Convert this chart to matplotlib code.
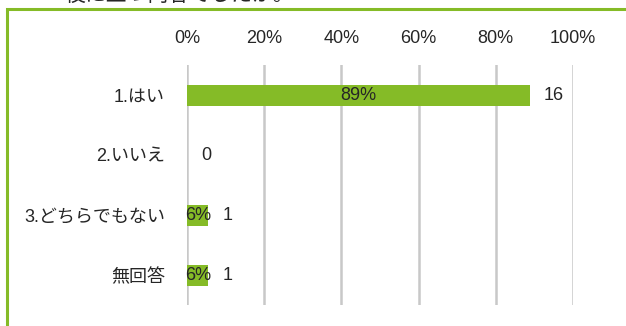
import matplotlib
matplotlib.use("Agg")
import matplotlib.pyplot as plt
from matplotlib.patches import Rectangle

plt.rcParams['font.family'] = ['Liberation Sans', 'Noto Sans CJK JP', 'DejaVu Sans']

# 回答データ
categories = ["1.はい", "2.いいえ", "3.どちらでもない", "無回答"]
counts = [16, 0, 1, 1]
tick_vals = [0, 20, 40, 60, 80, 100]
tick_labels = ["0%", "20%", "40%", "60%", "80%", "100%"]

GREEN = "#85BB27"
TEXT = "#262626"
GRID = "#C8C8C8"

total = sum(counts)
pcts = [c / total * 100 for c in counts]

W, H = 626, 326
fig = plt.figure(figsize=(W / 100, H / 100), dpi=100)

# 外枠（緑）
fig.patches.append(Rectangle((7 / W, -0.1), 1.0, (H - 9) / H + 0.1,
                             transform=fig.transFigure, fill=False,
                             edgecolor=GREEN, linewidth=2.2))
# 上部の設問文（枠の上で切れている）
fig.text(65 / W, 1.0 + 5 / H, "役に立つ内容でしたか。", fontsize=15,
         color=TEXT, ha="left", va="center")

ax = fig.add_axes([187 / W, (H - 305) / H, (573 - 187) / W, 240 / H])
y = list(range(len(categories)))
ax.barh(y, pcts, height=0.35, color=GREEN, zorder=3)
ax.set_xlim(0, 100)
ax.set_ylim(len(categories) - 0.5, -0.5)

ax.set_xticks(tick_vals)
ax.set_xticklabels(tick_labels, fontsize=13, color=TEXT)
ax.xaxis.tick_top()
ax.tick_params(axis="x", length=0, pad=13)
ax.set_yticks(y)
ax.set_yticklabels(categories, fontsize=13, color=TEXT)
ax.tick_params(axis="y", length=0, pad=16)

for s in ax.spines.values():
    s.set_visible(False)
ax.grid(axis="x", color=GRID, linewidth=1.8, zorder=1)

for yi, p, c in zip(y, pcts, counts):
    if c > 0:
        ax.text(p / 2, yi, f"{p:.0f}%", ha="center", va="center",
                fontsize=13, color=TEXT, zorder=4)
    ax.annotate(str(c), (p, yi), xytext=(10, 0), textcoords="offset points",
                ha="left", va="center", fontsize=13, color=TEXT)

fig.savefig("out.png", dpi=100, facecolor="white")
